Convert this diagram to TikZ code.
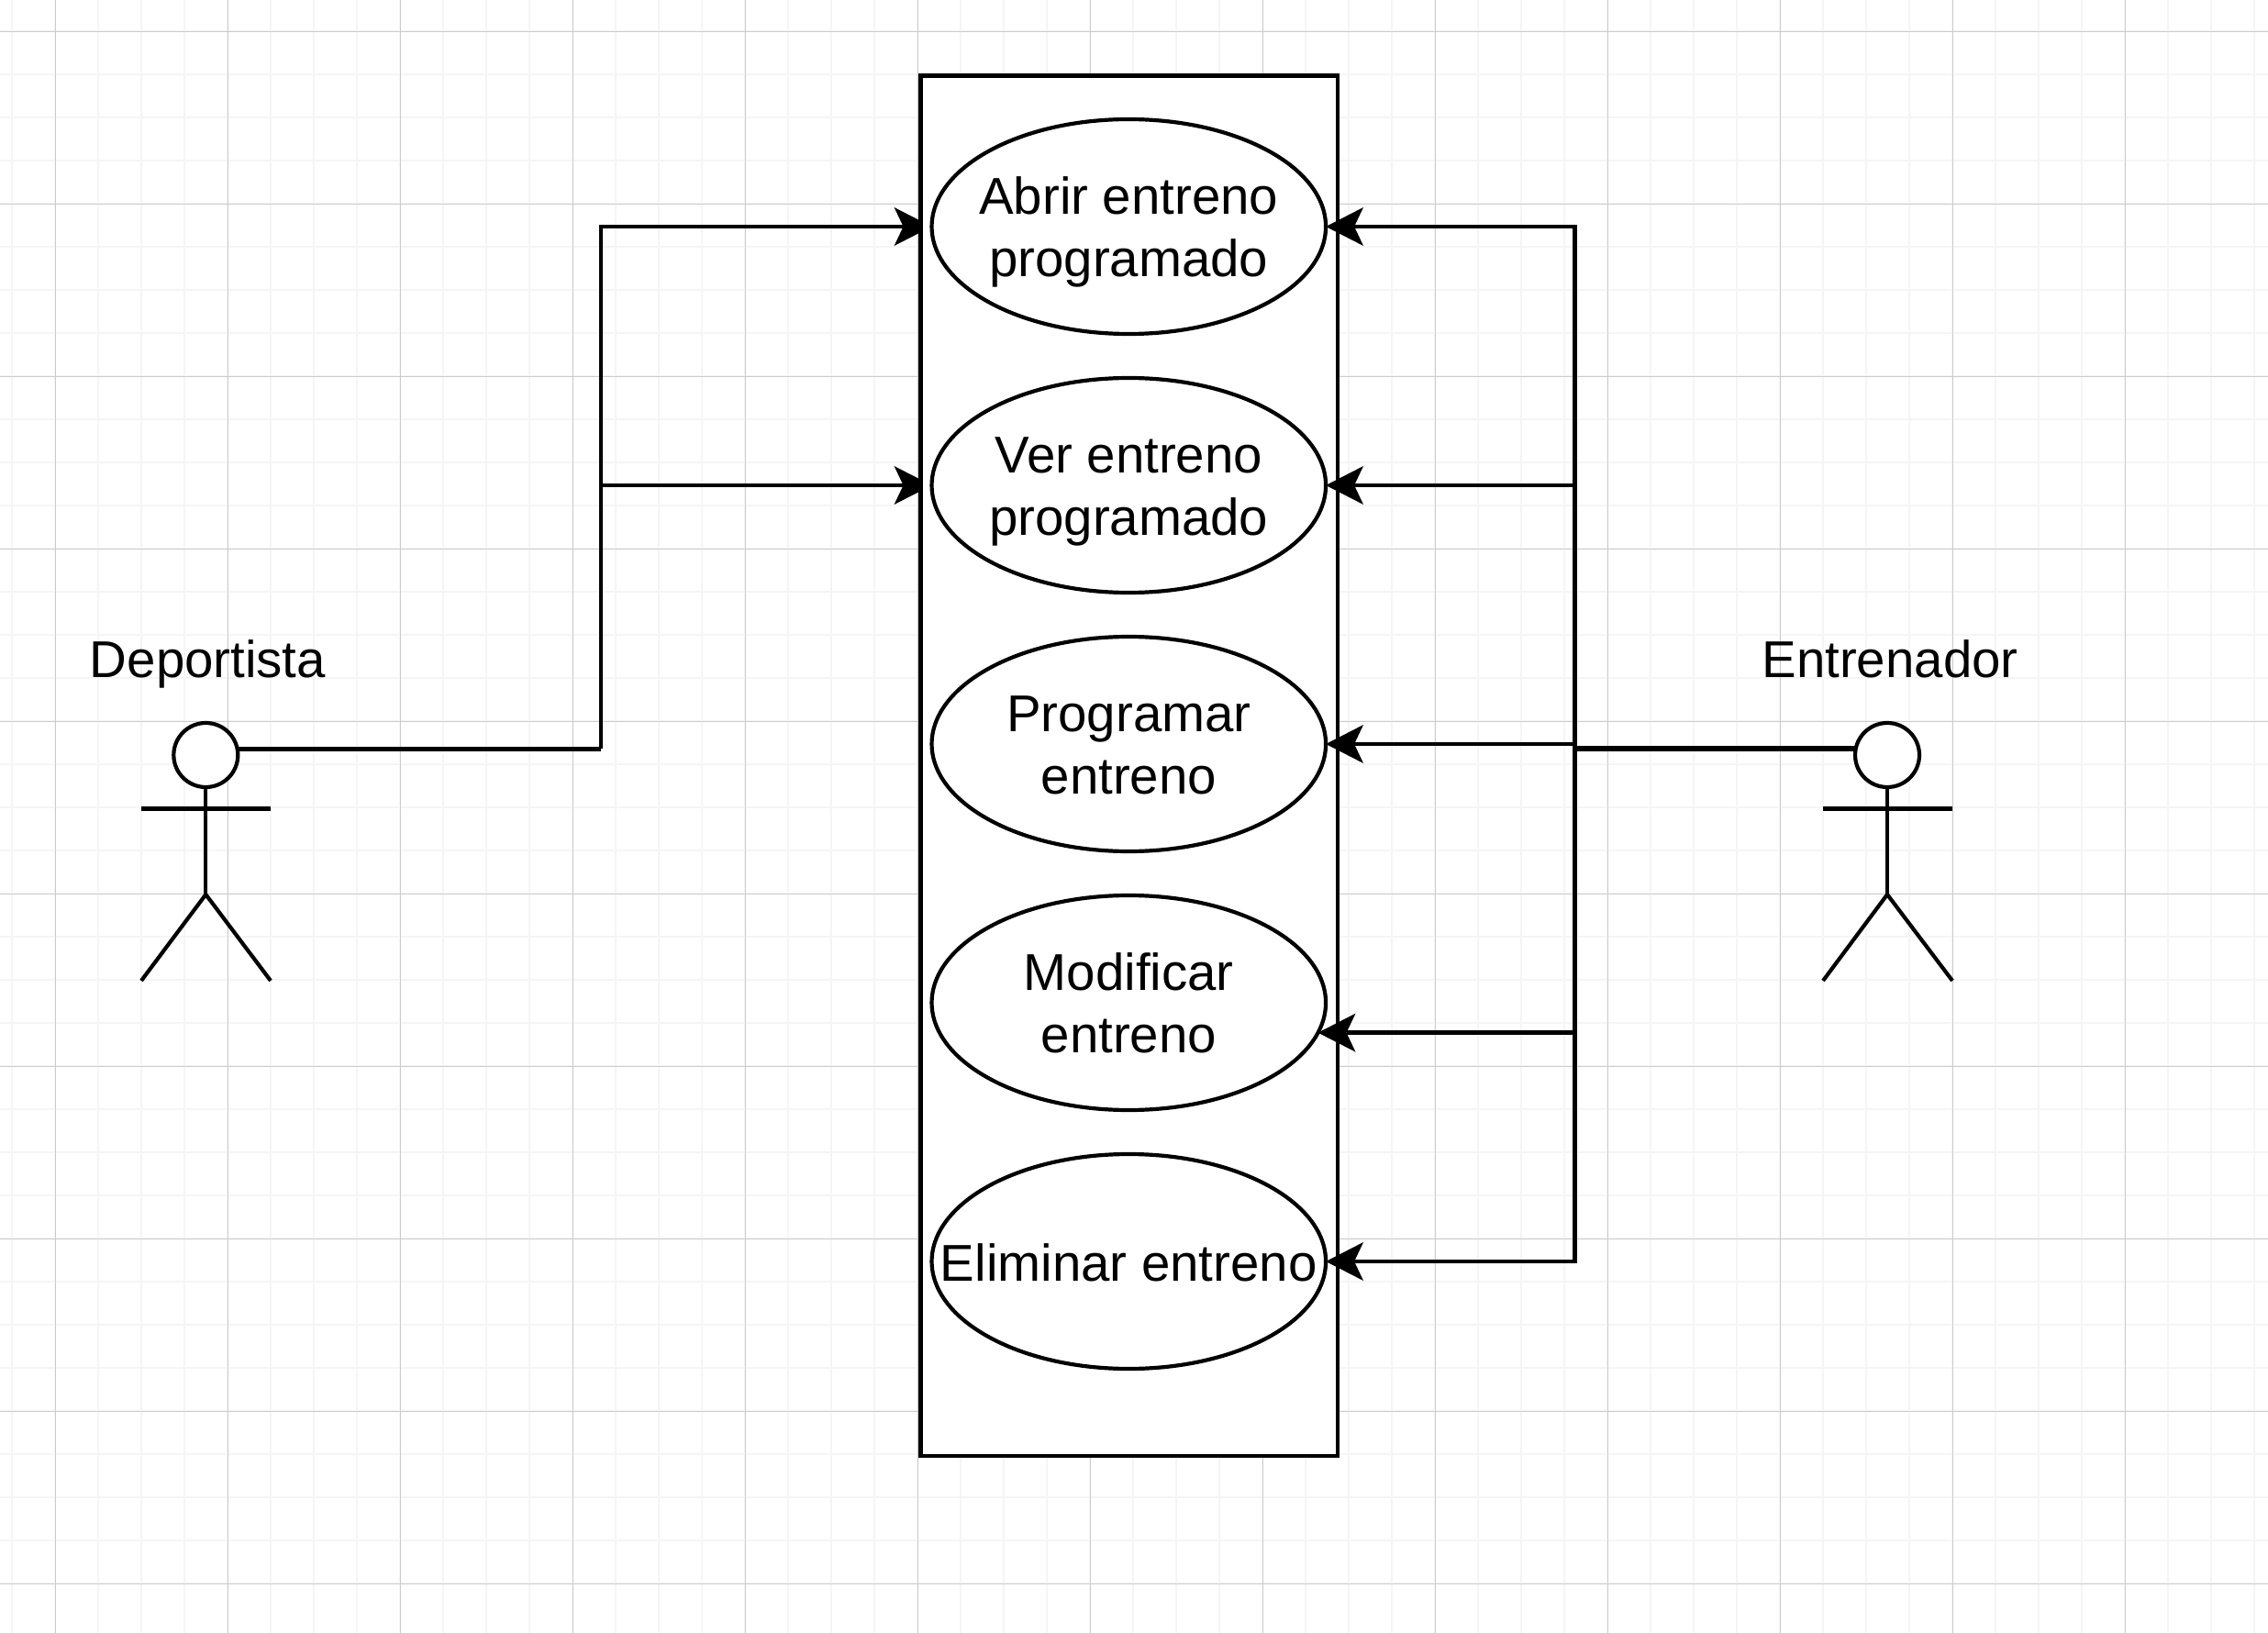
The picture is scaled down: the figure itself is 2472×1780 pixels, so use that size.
\documentclass[tikz,border=0pt]{standalone}
\usepackage{fontspec}
\setmainfont{Liberation Sans}
\usetikzlibrary{arrows.meta,shapes.geometric,backgrounds}
\tikzset{
  x=0.5pt,y=-0.5pt,
  minorgrid/.style={draw=black!4,line width=0.75pt},
  majorgrid/.style={draw=black!20,line width=0.5pt},
  usecase/.style={ellipse,draw=black,fill=white,line width=2.1pt,inner sep=0pt,outer sep=0pt,
    minimum width=214.75pt,minimum height=117pt},
  uctext/.style={align=center,inner sep=0pt,yshift=-3.3pt,font=\fontsize{28.2}{34}\selectfont},
  system/.style={draw=black,fill=white,line width=2.2pt,inner sep=0pt,outer sep=0pt,
    minimum width=227.2pt,minimum height=752pt},
  head/.style={circle,draw=black,fill=white,line width=2.1pt,inner sep=0pt,outer sep=0pt,minimum size=35pt},
  limb/.style={draw=black,line width=2.1pt},
  conn/.style={draw=black,line width=2.2pt,-{Stealth[length=20.5pt,width=21pt,inset=5pt,line width=0pt]}},
  stem/.style={draw=black,line width=2.3pt},
  stemthick/.style={draw=black,line width=2.9pt},
  actorlabel/.style={anchor=base,inner sep=0pt,font=\fontsize{28.2}{34}\selectfont},
}
\begin{document}
\begin{tikzpicture}
\useasboundingbox (0,0) rectangle (2472,1780);
% use cases
\node[usecase] (u1) at (1230.3,247) {};
\node[usecase] (u2) at (1230.3,529) {};
\node[usecase] (u3) at (1230.3,811) {};
\node[usecase] (u4) at (1230.3,1093) {};
\node[usecase] (u5) at (1230.3,1375) {};
\node[uctext] (t1) at (u1.center) {\strut Abrir entreno\\\strut programado};
\node[uctext] (t2) at (u2.center) {\strut Ver entreno\\\strut programado};
\node[uctext] (t3) at (u3.center) {\strut Programar\\\strut entreno};
\node[uctext] (t4) at (u4.center) {\strut Modificar\\\strut entreno};
\node[uctext,yshift=-0.7pt] (t5) at (u5.center) {\strut Eliminar entreno};
% actors
\node[head] (hl) at (224.3,823) {};
\node[head] (hr) at (2057,823) {};
\coordinate (hipl) at (224.3,975);
\coordinate (hipr) at (2057,975);
\coordinate (arml1) at (154,881.5);
\coordinate (arml2) at (295,881.5);
\coordinate (armr1) at (1987,881.5);
\coordinate (armr2) at (2128,881.5);
\coordinate (footl1) at (154,1069);
\coordinate (footl2) at (295,1069);
\coordinate (footr1) at (1987,1069);
\coordinate (footr2) at (2128,1069);
\draw[limb] (hl.south) -- (hipl);
\draw[limb] (arml1) -- (arml2);
\draw[limb] (footl1) -- (hipl) -- (footl2);
\draw[limb] (hr.south) -- (hipr);
\draw[limb] (armr1) -- (armr2);
\draw[limb] (footr1) -- (hipr) -- (footr2);
\node[actorlabel] (ld) at (226.5,738) {Deportista};
\node[actorlabel] (le) at (2060,738) {Entrenador};
% bus lines
\coordinate (buslx) at (655,0);
\coordinate (busrx) at (1716.5,0);
\coordinate (busl) at (hl.11 -| buslx);
\coordinate (busr) at (hr.169 -| busrx);
\begin{pgfonlayer}{background}
  \foreach \i in {0,...,52} {\draw[minorgrid] ({13+47*\i},0) -- ({13+47*\i},1780);}
  \foreach \i in {0,...,37} {\draw[minorgrid] (0,{-13+47*\i}) -- (2472,{-13+47*\i});}
  \foreach \i in {0,...,12} {\draw[majorgrid] ({60.5+188*\i},0) -- ({60.5+188*\i},1780);}
  \foreach \i in {0,...,9} {\draw[majorgrid] (0,{34.3+188*\i}) -- (2472,{34.3+188*\i});}
  \draw[stem] (hl.11) -- (busl);
  \draw[conn] (busl) |- (u1.west);
  \draw[conn] (busl) |- (u2.west);
  \node[system] (sys) at (1230.5,834.7) {};
\end{pgfonlayer}
% right connectors
\draw[conn] (busr) |- (u1.east);
\draw[conn] (busr) |- (u2.east);
\draw[conn] (busr) |- (u3.east);
\draw[conn] (busr) |- (u4.-9.1);
\draw[conn] (busr) |- (u5.east);
\draw[stemthick] (hr.169) -- (busr);
\end{tikzpicture}
\end{document}
